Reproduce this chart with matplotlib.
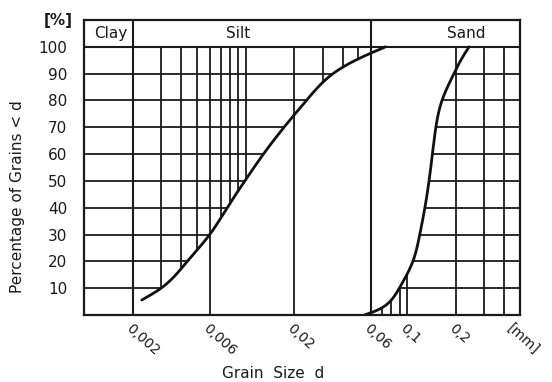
import numpy as np
import matplotlib
matplotlib.use("Agg")
import matplotlib.pyplot as plt
from matplotlib.transforms import blended_transform_factory

plt.rcParams['font.family'] = ['DejaVu Sans']

# ---- data ----
# silt curve (grain size d in mm, percentage finer)
silt_d = [0.00228, 0.0030, 0.00436, 0.0060, 0.0077, 0.0099, 0.0129, 0.0173,
          0.0238, 0.0348, 0.048, 0.0736]
silt_p = [5.6, 10.0, 20.0, 30.0, 40.0, 50.0, 60.0, 70.0,
          80.0, 90.0, 95.0, 100.0]
# sand curve
sand_d = [0.0545, 0.070, 0.0895, 0.1086, 0.1198, 0.1289, 0.1367, 0.1435,
          0.1507, 0.1645, 0.195, 0.215, 0.242]
sand_p = [0.0, 2.7, 10.0, 20.0, 30.0, 40.0, 50.0, 60.0,
          70.0, 80.0, 90.0, 95.0, 100.0]

y_ticks = [10, 20, 30, 40, 50, 60, 70, 80, 90, 100]
x_tick_vals = [0.002, 0.006, 0.02, 0.06, 0.1, 0.2]
x_tick_labels = ["0,002", "0,006", "0,02", "0,06", "0,1", "0,2"]
zones = ["Clay", "Silt", "Sand"]
zone_label_x = [0.00146, 0.009, 0.234]
zone_bounds = [0.002, 0.06]

full_lines = [0.006, 0.02, 0.2, 0.3, 0.4]
above_silt = [0.003, 0.004, 0.005, 0.007, 0.008, 0.009, 0.01, 0.03, 0.04, 0.05]
below_sand = [0.07, 0.08, 0.09, 0.1]

XMIN, XMAX = 0.001, 0.5
YMAX = 110


def natural_spline(tt, vv, tq):
    n = len(tt)
    h = np.diff(tt)
    A = np.zeros((n, n))
    b = np.zeros(n)
    A[0, 0] = A[-1, -1] = 1.0
    for i in range(1, n - 1):
        A[i, i - 1] = h[i - 1]
        A[i, i] = 2 * (h[i - 1] + h[i])
        A[i, i + 1] = h[i]
        b[i] = 6 * ((vv[i + 1] - vv[i]) / h[i] - (vv[i] - vv[i - 1]) / h[i - 1])
    M = np.linalg.solve(A, b)
    idx = np.clip(np.searchsorted(tt, tq) - 1, 0, n - 2)
    hi = h[idx]
    a = tt[idx + 1] - tq
    c = tq - tt[idx]
    return (M[idx] * a**3 / (6 * hi) + M[idx + 1] * c**3 / (6 * hi)
            + (vv[idx] / hi - M[idx] * hi / 6) * a
            + (vv[idx + 1] / hi - M[idx + 1] * hi / 6) * c)


def smooth_path(d, p, n=400):
    """Smooth rendering through the read points (parametric spline, log-x space)."""
    x = np.log10(np.asarray(d, float))
    y = np.asarray(p, float)
    t = np.concatenate([[0], np.cumsum(np.hypot(np.diff(x) / 0.3, np.diff(y) / 10))])
    tq = np.linspace(t[0], t[-1], n)
    return 10 ** natural_spline(t, x, tq), natural_spline(t, y, tq)


fig = plt.figure(figsize=(5.52, 3.82), dpi=100)
ax = fig.add_axes([84/552, 67/382, 436/552, 295/382])
ax.set_xscale('log')
ax.set_xlim(XMIN, XMAX)
ax.set_ylim(0, YMAX)

ink = '#1a1a1a'
glw = 1.3

silt_sx, silt_sy = smooth_path(silt_d, silt_p)
sand_sx, sand_sy = smooth_path(sand_d, sand_p)
ls_d = np.log10(silt_sx)
lsa_d = np.log10(sand_sx)

# horizontal grid lines
for p in y_ticks[:-1]:
    x1 = 10 ** np.interp(p, silt_sy, ls_d)
    ax.plot([XMIN, x1], [p, p], color=ink, lw=glw, solid_capstyle='butt')
    x2 = 10 ** np.interp(p, sand_sy, lsa_d)
    ax.plot([x2, XMAX], [p, p], color=ink, lw=glw, solid_capstyle='butt')
ax.plot([XMIN, XMAX], [100, 100], color=ink, lw=1.5)

# vertical grid lines
for d in full_lines:
    ax.plot([d, d], [0, 100], color=ink, lw=glw)
for d in above_silt:
    p = np.interp(np.log10(d), ls_d, silt_sy)
    ax.plot([d, d], [p, 100], color=ink, lw=glw)
for d in below_sand:
    p = np.interp(np.log10(d), lsa_d, sand_sy)
    ax.plot([d, d], [0, p], color=ink, lw=glw)
for d in zone_bounds:
    ax.plot([d, d], [0, YMAX], color=ink, lw=1.5)

# curves
ax.plot(silt_sx, silt_sy, color='#111111', lw=2.0, solid_capstyle='round')
ax.plot(sand_sx, sand_sy, color='#111111', lw=2.0, solid_capstyle='round')

# header labels
for name, x in zip(zones, zone_label_x):
    ax.text(x, 105, name, ha='center', va='center', fontsize=11, color=ink)

for s in ax.spines.values():
    s.set_linewidth(1.6)
    s.set_color(ink)

ax.set_xticks([])
ax.xaxis.set_minor_locator(matplotlib.ticker.NullLocator())
ax.set_yticks(y_ticks)
ax.set_yticklabels([str(v) for v in y_ticks])
ax.tick_params(axis='y', length=0, pad=12, labelsize=11, labelcolor=ink)

trans = blended_transform_factory(ax.transData, ax.transAxes)
for v, lab in zip(x_tick_vals, x_tick_labels):
    ax.text(v, -0.02, lab, transform=trans, rotation=-42, rotation_mode='anchor',
            ha='left', va='top', fontsize=10, color=ink)
ax.text(0.455, -0.02, "[mm]", transform=trans, rotation=-42, rotation_mode='anchor',
        ha='left', va='top', fontsize=10, color=ink)

fig.text(58/552, 1 - 20/382, "[%]", ha='center', va='center', fontsize=11,
         fontweight='bold', color=ink)
fig.text(273/552, 1 - 373/382, "Grain  Size  d", ha='center', va='center', fontsize=11, color=ink)
fig.text(18/552, 1 - 197/382, "Percentage of Grains < d", rotation=90,
         ha='center', va='center', fontsize=11, color=ink)

fig.savefig("out.png", dpi=100)
